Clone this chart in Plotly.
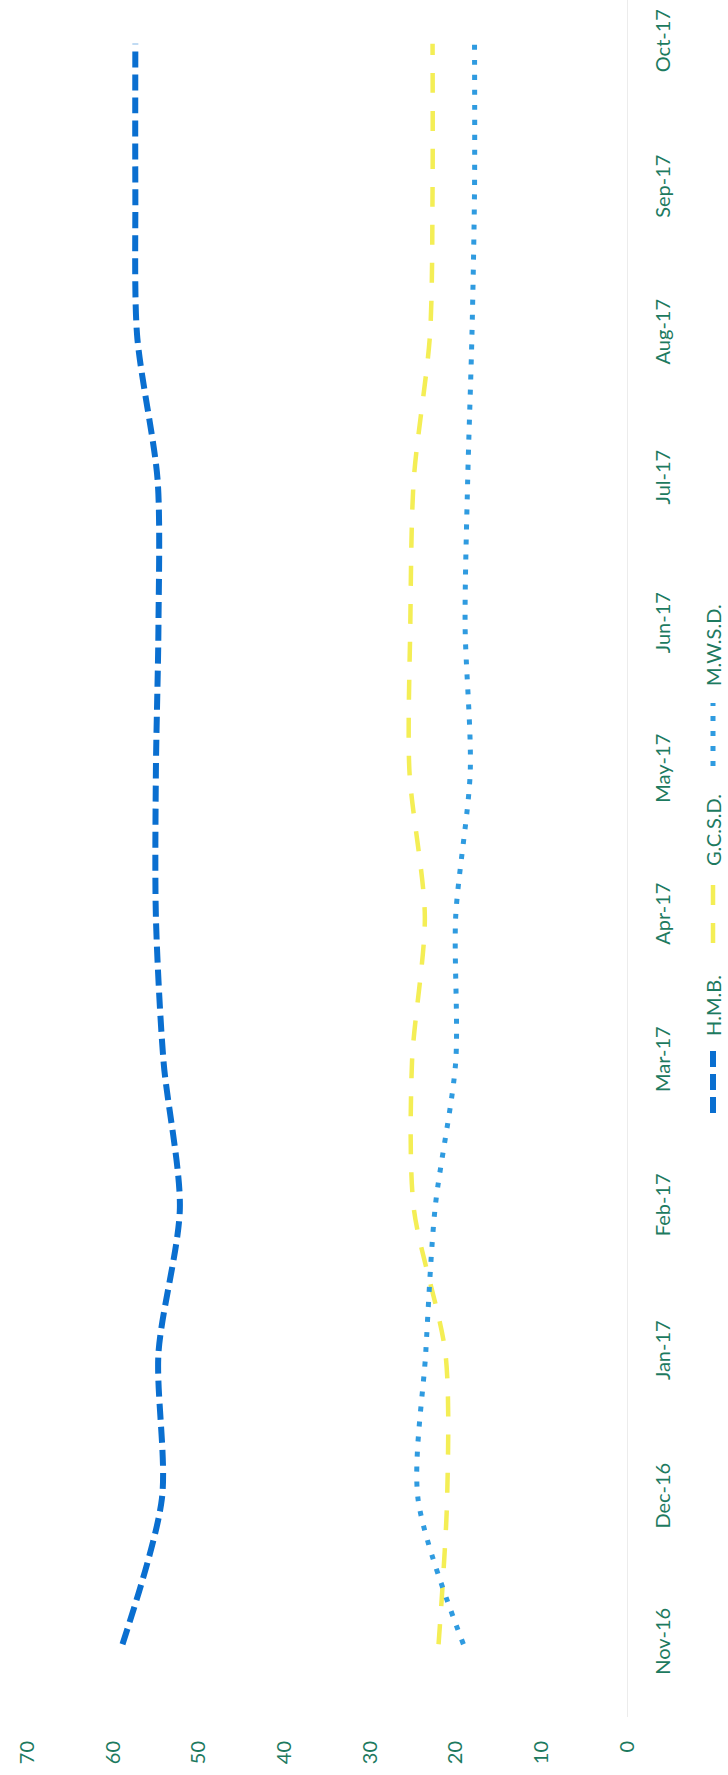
import plotly.graph_objects as go

months = ["Nov-16", "Dec-16", "Jan-17", "Feb-17", "Mar-17", "Apr-17",
          "May-17", "Jun-17", "Jul-17", "Aug-17", "Sep-17", "Oct-17"]
hmb = [58.9, 54.3, 54.7, 52.2, 54.1, 55.0, 55.0, 54.7, 54.8, 57.2, 57.4, 57.4]
gcsd = [22.0, 21.0, 21.2, 24.9, 25.1, 23.6, 25.4, 25.3, 24.9, 23.0, 22.7, 22.7]
mwsd = [19.1, 24.4, 23.5, 22.4, 20.0, 20.0, 18.3, 18.9, 18.6, 18.1, 17.8, 17.8]
value_ticks = [0, 10, 20, 30, 40, 50, 60, 70]

series_names = ["H.M.B.", "G.C.S.D.", "M.W.S.D."]
colors = ["#0a6fd0", "#f4ee55", "#2f9be0"]
dashes = ["16px,7px", "20px,18px", "5px,10px"]
widths = [6, 4.5, 5]

TEXT = "#1d7a5f"
FONT = "Lato"

fig = go.Figure()
for name, vals, c, d, w in zip(series_names, [hmb, gcsd, mwsd], colors, dashes, widths):
    fig.add_trace(go.Scatter(x=vals, y=months, mode="lines", name=name,
                             line=dict(color=c, width=w, dash=d, shape="spline", smoothing=0.8),
                             showlegend=False, hoverinfo="skip"))

W, H = 728, 1775
ml, mr, mt, mb = 0, 101, 0, 58
pw, ph = W - ml - mr, H - mt - mb

fig.update_layout(
    width=W, height=H,
    margin=dict(l=ml, r=mr, t=mt, b=mb),
    paper_bgcolor="white", plot_bgcolor="white",
    font=dict(family=FONT, size=20, color=TEXT),
    xaxis=dict(range=[73.2, 0], tickvals=value_ticks, tickangle=-90,
               showgrid=False, zeroline=False, showline=False,
               ticks="", ticklabelstandoff=19,
               tickfont=dict(family=FONT, size=20, color=TEXT)),
    yaxis=dict(type="category", categoryorder="array", categoryarray=months,
               range=[-0.5, 11.3], side="right", tickangle=-90,
               showgrid=False, zeroline=False, showline=True,
               linecolor="#ececec", linewidth=1, ticks="", ticklabelstandoff=18,
               tickfont=dict(family=FONT, size=20, color=TEXT)),
)

# rotated legend built from annotations and symbol shapes
def py(ypix):
    return (H - mb - ypix) / ph

leg_x = 713 / pw
legend_items = [
    (series_names[0], 1005, 1050, 1113),
    (series_names[1], 830, 880, 943),
    (series_names[2], 645, 703, 766),
]
for i, (name, tc, s0, s1) in enumerate(legend_items):
    fig.add_annotation(x=leg_x, y=py(tc), xref="paper", yref="paper", text=name,
                       textangle=-90, showarrow=False,
                       font=dict(family=FONT, size=20, color=TEXT),
                       xanchor="center", yanchor="middle")
    fig.add_shape(type="line", xref="paper", yref="paper",
                  x0=leg_x, x1=leg_x, y0=py(s1), y1=py(s0),
                  line=dict(color=colors[i], width=widths[i], dash=dashes[i]))

fig.write_html("out.html", config={"displayModeBar": False},
               post_script="document.body.style.margin='0px';document.body.style.overflow='hidden';")
